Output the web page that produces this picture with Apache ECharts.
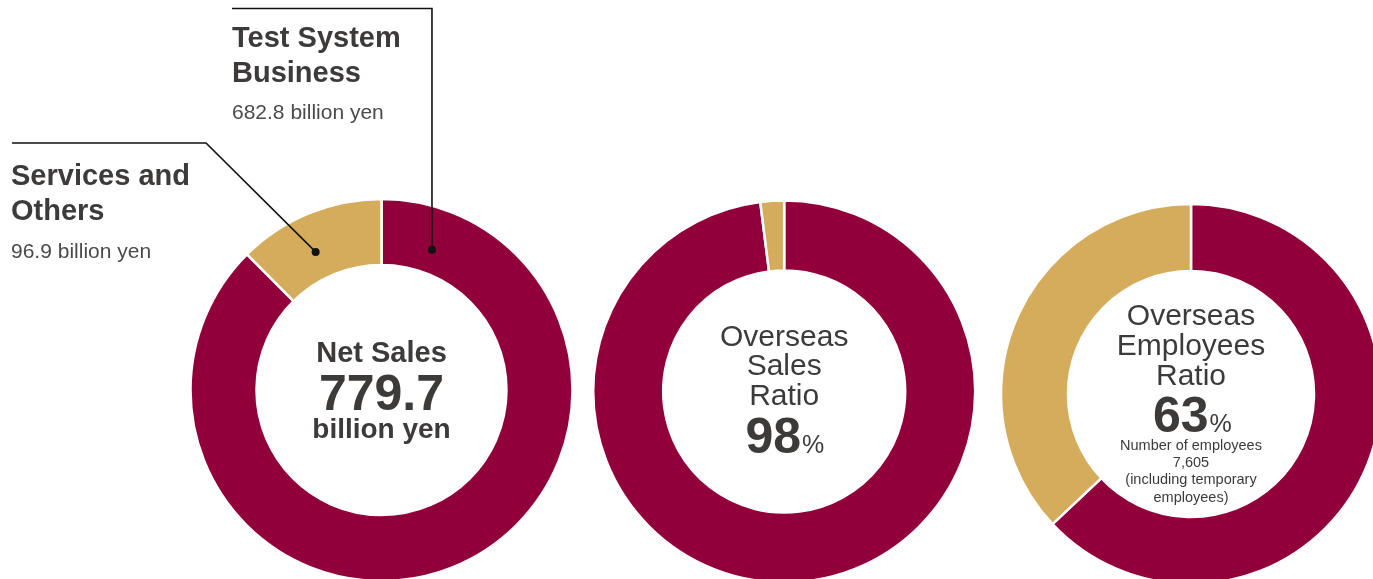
<!DOCTYPE html>
<html>
<head>
<meta charset="utf-8">
<script src="https://cdn.jsdelivr.net/npm/echarts@6/dist/echarts.min.js"></script>
<style>
  html, body { margin: 0; padding: 0; background: #ffffff; }
  #chart { width: 1373px; height: 579px; }
</style>
</head>
<body>
<div id="chart"></div>
<script>
// Net sales by business segment (billion yen)
const segmentNames = ['Test System Business', 'Services and Others'];
const segmentSales = [682.8, 96.9];

// Overseas vs. domestic share of sales (%)
const salesRegions = ['Overseas', 'Japan'];
const salesRatio = [98, 2];

// Overseas vs. domestic share of employees (%)
const employeeRegions = ['Overseas', 'Japan'];
const employeeRatio = [63, 37];
const employeeCount = '7,605';

const RED = '#92003B';
const GOLD = '#D4AC5B';
const TEXT = '#3d3a3a';
const FONT = '"Liberation Sans", Arial, sans-serif';

const netSalesTotal = segmentSales.reduce((a, b) => a + b, 0);

// Donut geometry: centre and inner/outer radius
const donuts = [
  { cx: 381.5, cy: 390, r0: 125, r1: 191 },
  { cx: 784.2, cy: 391.5, r0: 121, r1: 191 },
  { cx: 1191, cy: 394, r0: 123, r1: 190 }
];

function pieSeries(d, names, values) {
  return {
    type: 'pie',
    center: [d.cx, d.cy],
    radius: [d.r0, d.r1],
    startAngle: 90,
    clockwise: true,
    silent: true,
    z: 1,
    label: { show: false },
    labelLine: { show: false },
    emphasis: { disabled: true },
    itemStyle: { borderColor: '#ffffff', borderWidth: 2.5 },
    data: names.map((n, i) => ({
      name: n,
      value: values[i],
      itemStyle: { color: i === 0 ? RED : GOLD }
    }))
  };
}

// Point on a donut, angle measured clockwise from 12 o'clock
function polar(d, r, deg) {
  const a = deg * Math.PI / 180;
  return [d.cx + r * Math.sin(a), d.cy - r * Math.cos(a)];
}

// Text placed by its alphabetic baseline
function txt(str, x, baseline, size, weight, align, color) {
  return {
    type: 'text',
    silent: true,
    z: 100,
    style: {
      text: str,
      x: x,
      y: baseline - size * 0.28,
      fill: color || TEXT,
      font: (weight || 'normal') + ' ' + size + 'px ' + FONT,
      textAlign: align || 'center',
      textVerticalAlign: 'middle'
    }
  };
}

const d1 = donuts[0], d2 = donuts[1], d3 = donuts[2];
const dotTest = polar(d1, 149, 19.8);
const dotServices = polar(d1, 153, -25.5);

const graphics = [
  // leader lines
  {
    type: 'polyline', silent: true, z: 100,
    shape: { points: [[232, 8.5], [dotTest[0], 8.5], dotTest] },
    style: { stroke: '#111', lineWidth: 1.6, fill: null }
  },
  {
    type: 'polyline', silent: true, z: 100,
    shape: { points: [[12, 143], [206, 143], dotServices] },
    style: { stroke: '#111', lineWidth: 1.6, fill: null }
  },
  { type: 'circle', silent: true, z: 100, shape: { cx: dotTest[0], cy: dotTest[1], r: 4 }, style: { fill: '#111' } },
  { type: 'circle', silent: true, z: 100, shape: { cx: dotServices[0], cy: dotServices[1], r: 4 }, style: { fill: '#111' } },

  // segment labels
  txt('Test System', 232, 46.7, 29, 'bold', 'left'),
  txt('Business', 232, 81.7, 29, 'bold', 'left'),
  txt(segmentSales[0].toFixed(1) + ' billion yen', 232, 119, 21, 'normal', 'left', '#4a4a4a'),
  txt('Services and', 11, 185, 29, 'bold', 'left'),
  txt('Others', 11, 220, 29, 'bold', 'left'),
  txt(segmentSales[1].toFixed(1) + ' billion yen', 11, 257.7, 21, 'normal', 'left', '#4a4a4a'),

  // donut 1 centre
  txt('Net Sales', d1.cx, 362.3, 29, 'bold'),
  txt(netSalesTotal.toFixed(1), d1.cx, 410, 50, 'bold'),
  txt('billion yen', d1.cx, 438.3, 28, 'bold'),

  // donut 2 centre
  txt('Overseas', d2.cx, 346, 30, 'normal'),
  txt('Sales', d2.cx, 375.5, 30, 'normal'),
  txt('Ratio', d2.cx, 405, 30, 'normal'),
  txt(String(salesRatio[0]), 801, 453.3, 50, 'bold', 'right'),
  txt('%', 802, 453.3, 25, 'normal', 'left'),

  // donut 3 centre
  txt('Overseas', d3.cx, 325.5, 30, 'normal'),
  txt('Employees', d3.cx, 355.5, 30, 'normal'),
  txt('Ratio', d3.cx, 385.5, 30, 'normal'),
  txt(String(employeeRatio[0]), 1208.5, 432.3, 50, 'bold', 'right'),
  txt('%', 1209.5, 432.3, 25, 'normal', 'left'),
  txt('Number of employees', d3.cx, 450, 14.5, 'normal'),
  txt(employeeCount, d3.cx, 467, 14.5, 'normal'),
  txt('(including temporary', d3.cx, 484.5, 14.5, 'normal'),
  txt('employees)', d3.cx, 501.7, 14.5, 'normal')
];

const chart = echarts.init(document.getElementById('chart'), null, { renderer: 'canvas' });
chart.setOption({
  backgroundColor: '#ffffff',
  animation: false,
  series: [
    pieSeries(d1, segmentNames, segmentSales),
    pieSeries(d2, salesRegions, salesRatio),
    pieSeries(d3, employeeRegions, employeeRatio)
  ],
  graphic: { elements: graphics }
});
</script>
</body>
</html>
